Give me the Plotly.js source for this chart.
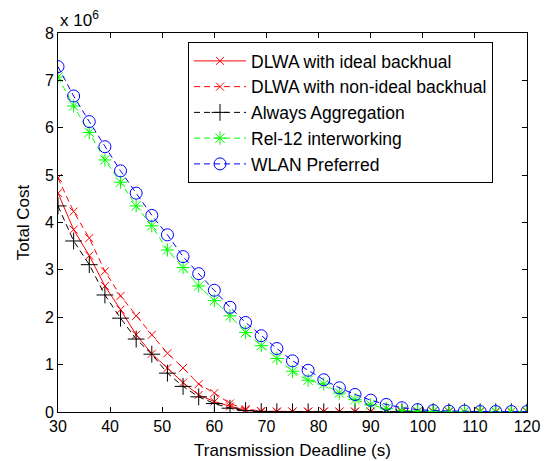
<!DOCTYPE html>
<html>
<head>
<meta charset="utf-8">
<script src="https://cdn.plot.ly/plotly-3.0.1.min.js"></script>
<style>html,body{margin:0;padding:0;background:#fff;}#chart{width:554px;height:461px;}</style>
</head>
<body>
<div id="chart"></div>
<script>
// Transmission deadline (s)
const deadline = [30,33,36,39,42,45,48,51,54,57,60,63,66,69,72,75,78,81,84,87,90,93,96,99,102,105,108,111,114,117,120];
// Total cost in units of 10^6
const dlwaIdeal = [4.62,3.85,3.30,2.66,2.16,1.63,1.23,0.93,0.62,0.36,0.22,0.12,0.04,0.01,0.005,0.005,0.005,0.005,0.005,0.005,0.005,0.005,0.005,0.005,0.005,0.005,0.005,0.005,0.005,0.005,0.005];
const dlwaNonIdeal = [4.94,4.23,3.67,2.97,2.45,2.03,1.63,1.24,0.93,0.59,0.40,0.18,0.06,0.02,0.01,0.01,0.01,0.01,0.01,0.01,0.01,0.01,0.01,0.01,0.01,0.01,0.01,0.01,0.01,0.01,0.01];
const alwaysAgg = [4.35,3.61,3.11,2.47,1.98,1.54,1.22,0.82,0.54,0.32,0.18,0.08,0.03,0.01,0.005,0.005,0.005,0.005,0.005,0.005,0.005,0.005,0.005,0.005,0.005,0.005,0.005,0.005,0.005,0.005,0.005];
const rel12 = [7.07,6.46,5.90,5.32,4.85,4.35,3.93,3.42,3.05,2.66,2.35,2.03,1.68,1.40,1.13,0.86,0.67,0.59,0.40,0.26,0.15,0.07,0.03,0.02,0.01,0.01,0.01,0.01,0.01,0.01,0.01];
const wlanPref = [7.29,6.67,6.13,5.60,5.09,4.62,4.15,3.74,3.28,2.92,2.57,2.21,1.89,1.61,1.34,1.08,0.88,0.68,0.51,0.37,0.25,0.16,0.09,0.05,0.03,0.02,0.02,0.01,0.01,0.01,0.01];
const names = ["DLWA with ideal backhual","DLWA with non-ideal backhual","Always Aggregation","Rel-12 interworking","WLAN Preferred"];
const xTicks = [30,40,50,60,70,80,90,100,110,120];
const yTicks = [0,1,2,3,4,5,6,7,8];

const dash = "6px,4px";
const traces = [
  {x: deadline, y: dlwaIdeal, name: names[0], mode: "lines+markers",
   line: {color: "#ff0000", width: 1},
   marker: {symbol: "x-thin-open", size: 8, line: {color: "#ff0000", width: 1}}},
  {x: deadline, y: dlwaNonIdeal, name: names[1], mode: "lines+markers",
   line: {color: "#ff0000", width: 1, dash: dash},
   marker: {symbol: "x-thin-open", size: 8, line: {color: "#ff0000", width: 1}}},
  {x: deadline, y: alwaysAgg, name: names[2], mode: "lines+markers",
   line: {color: "#000000", width: 1, dash: dash},
   marker: {symbol: "cross-thin-open", size: 12, line: {color: "#000000", width: 1}}},
  {x: deadline, y: rel12, name: names[3], mode: "lines+markers",
   line: {color: "#00ff00", width: 1, dash: dash},
   marker: {symbol: "asterisk-open", size: 11, line: {color: "#00ff00", width: 1}}},
  {x: deadline, y: wlanPref, name: names[4], mode: "lines+markers",
   line: {color: "#0000ff", width: 1, dash: dash},
   marker: {symbol: "circle-open", size: 12, line: {color: "#0000ff", width: 1}}}
];

const fontFam = "Liberation Sans, Arial, sans-serif";
const layout = {
  width: 554, height: 461,
  margin: {l: 58, r: 27, t: 33, b: 49},
  paper_bgcolor: "#ffffff", plot_bgcolor: "#ffffff",
  font: {family: fontFam, size: 16, color: "#000"},
  showlegend: true,
  legend: {x: (188-58)/469, y: (412-42)/379, xanchor: "left", yanchor: "top",
    bgcolor: "#ffffff", bordercolor: "#000", borderwidth: 1,
    font: {family: fontFam, size: 17.5, color: "#000"}, tracegroupgap: 0,
    itemwidth: 52},
  xaxis: {range: [30, 120], tickmode: "array", tickvals: xTicks,
    ticks: "inside", ticklen: 5, tickcolor: "#000", showline: true, linecolor: "#000", linewidth: 1,
    mirror: "ticks", showgrid: false, zeroline: false,
    title: {text: "Transmission Deadline (s)", font: {size: 17}, standoff: 9},
    tickfont: {size: 16}},
  yaxis: {range: [0, 8], tickmode: "array", tickvals: yTicks,
    ticks: "inside", ticklen: 5, tickcolor: "#000", showline: true, linecolor: "#000", linewidth: 1,
    mirror: "ticks", showgrid: false, zeroline: false,
    title: {text: "Total Cost", font: {size: 17}, standoff: 10},
    tickfont: {size: 16}},
  annotations: [{xref: "paper", yref: "paper", x: 0, y: 1, xanchor: "left", yanchor: "bottom",
    xshift: 0, yshift: 1, showarrow: false, text: "x 10<sup>6</sup>", font: {size: 17, family: fontFam}}]
};

Plotly.newPlot("chart", traces, layout, {displayModeBar: false, staticPlot: true});
</script>
</body>
</html>
